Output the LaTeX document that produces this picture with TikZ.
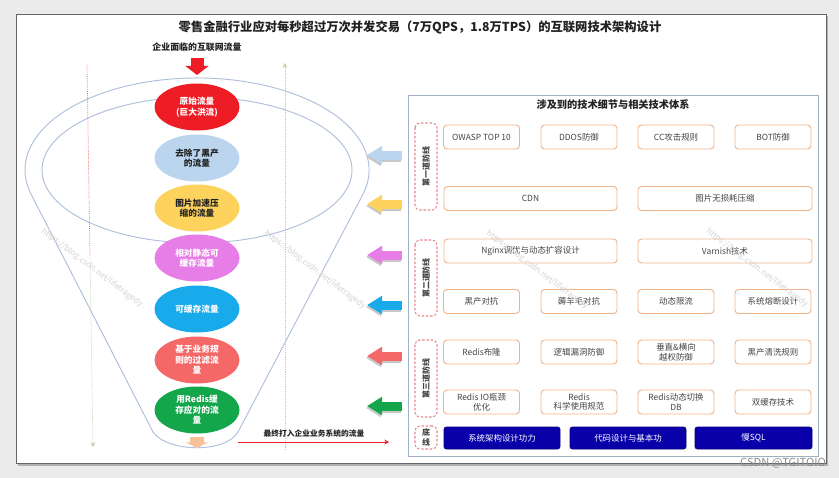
\documentclass[tikz,border=0pt]{standalone}
\usepackage{fontspec}
\setmainfont{Noto Sans CJK SC}
\usetikzlibrary{arrows.meta,shapes.geometric}
\definecolor{ffink}{HTML}{222222}
\definecolor{ffgrey}{HTML}{444444}
\definecolor{ffbg}{HTML}{EBEBEB}
\definecolor{ffrim}{HTML}{AEBFDC}
\definecolor{ffred}{HTML}{EE1C24}
\definecolor{ffsky}{HTML}{BBD5EE}
\definecolor{ffsun}{HTML}{FDD35E}
\definecolor{ffpink}{HTML}{E77DE7}
\definecolor{ffblue}{HTML}{18AAEA}
\definecolor{ffrose}{HTML}{F46868}
\definecolor{ffleaf}{HTML}{13A64B}
\definecolor{ffpeach}{HTML}{F7C297}
\definecolor{fflime}{HTML}{C2CBAA}
\definecolor{fforange}{HTML}{F0B48A}
\definecolor{ffdash}{HTML}{E8838F}
\definecolor{ffnavy}{HTML}{0A00AA}
\definecolor{ffpanel}{HTML}{9FB0C8}
\tikzset{
  fn text/.style={text=ffink},
  fn title/.style={font=\fontsize{10.5}{12}\selectfont\bfseries},
  fn caption/.style={font=\fontsize{7.6}{9}\selectfont\bfseries},
  fn rim/.style={draw=ffrim, line width=0.8pt},
  fn flow/.style={ellipse, minimum width=2.55cm, minimum height=1.41cm, inner sep=0pt,
    align=center, font=\fontsize{7.4}{9}\selectfont\bfseries},
  fn pointer/.style={-{Triangle[length=0.45cm,width=0.52cm]}, line width=0.27cm},
  fn guide/.style={densely dotted, line width=0.6pt},
  fn panel/.style={draw=ffpanel, line width=1pt, fill=white},
  fn tech/.style={draw=fforange, line width=0.8pt, rounded corners=3pt, fill=white,
    minimum width=2.28cm, minimum height=0.72cm, inner sep=1pt, align=center,
    text=ffgrey, font=\fontsize{7.2}{8.4}\selectfont},
  fn base/.style={fill=ffnavy, draw=ffnavy!70!black, line width=0.6pt, rounded corners=2pt,
    minimum width=3.48cm, minimum height=0.66cm, text=white, font=\fontsize{7.2}{8.4}\selectfont},
  fn layer/.style={draw=ffdash, line width=0.9pt, dash pattern=on 2pt off 1.6pt,
    rounded corners=4pt, minimum height=0.66cm, inner sep=0pt, align=center,
    text=ffgrey, font=\fontsize{6.8}{8}\selectfont\bfseries},
  fn mark/.style={text=black!17, font=\fontsize{7}{8}\selectfont, rotate=-37}
}
\begin{document}
\begin{tikzpicture}[x=0.03cm, y=-0.03cm, fn text]
  \useasboundingbox (0,0) rectangle (839,478);
  \fill[ffbg] (0,0) rectangle (839,478);
  \fill[black!30] (18,16) rectangle (828,466);
  \draw[fill=white, draw=black!60, line width=0.8pt] (16,14) rectangle (826,463);
  \node[fn title] (title) at (420,27) {零售金融行业应对每秒超过万次并发交易（7万QPS，1.8万TPS）的互联网技术架构设计};
  \node[fn caption] (inlet) at (197,47) {企业面临的互联网流量};

  % funnel body and rim
  \draw[fn rim] (30.9,193.8) arc[start angle=195, end angle=-15, x radius=5.16cm, y radius=2.76cm]
    -- (238,432) .. controls (226,453) and (168,453) .. (153,432) -- cycle;
  \draw[fn rim] (197,170) ellipse[x radius=4.65cm, y radius=2.19cm];

  % dotted guides
  \coordinate (fall top) at (87,65);
  \coordinate (fall mid) at (90,255);
  \coordinate (fall end) at (93,447);
  \coordinate (rise start) at (285,450);
  \coordinate (rise end) at (285,63);
  \draw[fn guide, draw=ffred!70] (fall top) -- (fall mid);
  \draw[fn guide, draw=fflime, -{Stealth[length=4pt,width=4pt]}] (fall mid) -- (fall end);
  \draw[fn guide, draw=fflime, -{Stealth[length=4pt,width=4pt]}] (rise start) -- (rise end);

  \foreach \y/\c/\t/\s [count=\i] in {107/ffred/white/{原始流量\\(巨大洪流)},
      158/ffsky/ffink/{去除了黑产\\的流量}, 208/ffsun/ffink/{图片加速压\\缩的流量},
      258/ffpink/white/{相对静态可\\缓存流量}, 309/ffblue/white/{可缓存流量},
      360/ffrose/white/{基于业务规\\则的过滤流\\量}, 410/ffleaf/white/{用Redis缓\\存应对的流\\量}}
    \node[fn flow, fill=\c, text=\t] (flow\i) at (197,\y) {\s};

  \draw[-{Triangle[length=0.27cm,width=0.69cm]}, line width=0.39cm, draw=ffred,
    shorten <=0.09cm, shorten >=0.25cm] (inlet.south) -- (flow1.north);
  \coordinate (drop end) at (197,448);
  \draw[-{Triangle[length=0.17cm,width=0.66cm]}, line width=0.42cm, draw=ffpeach,
    shorten <=0.09cm] (flow7.south) -- (drop end);

  % traffic that reaches the business system
  \coordinate (exit) at (238,442);
  \coordinate (exit end) at (389,442);
  \draw[draw=ffred, line width=0.7pt, -{Stealth[length=4pt,width=4pt]}] (exit) -- (exit end);
  \node[fn caption, font=\fontsize{6.6}{8}\selectfont\bfseries] (sink) at (314,434) {最终打入企业业务系统的流量};

  % defence arrows
  \foreach \y/\c [count=\i] in {155/ffsky, 204/ffsun, 255/ffpink, 305/ffblue, 356/ffrose, 406/ffleaf} {
    \coordinate (tail\i) at (402,\y);
    \coordinate (tip\i) at (367,\y);
    \draw[fn pointer, draw=black!22] ([xshift=-0.03cm,yshift=-0.06cm]tail\i) -- ([xshift=-0.03cm,yshift=-0.06cm]tip\i);
    \draw[fn pointer, draw=\c] (tail\i) -- (tip\i);
  }

  % technology panel
  \node[fn panel, minimum width=12.3cm, minimum height=10.83cm, anchor=north west] (panel) at (408,95) {};
  \node[fn caption, font=\fontsize{8.7}{10}\selectfont\bfseries] (paneltitle) at (613,105) {涉及到的技术细节与相关技术体系};
  \node[fn layer, rotate=90, minimum width=2.61cm] (layer1) at (426,166.5) {第一道防线};
  \node[fn layer, rotate=90, minimum width=2.28cm] (layer2) at (426,278) {第二道防线};
  \node[fn layer, rotate=90, minimum width=2.31cm] (layer3) at (426,378.5) {第三道防线};
  \node[fn layer, minimum width=0.66cm, minimum height=0.69cm] (layer4) at (426,437.5) {底\\线};

  \foreach \y/\r/\la/\lb/\lc/\ld in {137/a/OWASP TOP 10/DDOS防御/CC攻击规则/BOT防御,
      301.5/d/黑产对抗/薅羊毛对抗/动态限流/系统熔断设计,
      352/e/Redis布隆/逻辑漏洞防御/垂直\&横向\\越权防御/黑产清洗规则,
      402/f/Redis IO瓶颈\\优化/Redis\\科学使用规范/Redis动态切换\\DB/双缓存技术} {
    \node[fn tech] (tech\r1) at (481.5,\y) {\la};
    \node[fn tech] (tech\r2) at (579,\y) {\lb};
    \node[fn tech] (tech\r3) at (676,\y) {\lc};
    \node[fn tech] (tech\r4) at (773,\y) {\ld};
  }
  \node[fn tech, minimum width=5.19cm] (techb1) at (530.5,198.5) {CDN};
  \node[fn tech, minimum width=5.22cm] (techb2) at (725,198.5) {图片无损耗压缩};
  \node[fn tech, minimum width=5.19cm] (techc1) at (530.5,251) {Nginx调优与动态扩容设计};
  \node[fn tech, minimum width=5.22cm] (techc2) at (725,251) {Varnish技术};
  \node[fn base] (base1) at (502,438) {系统架构设计功力};
  \node[fn base] (base2) at (628,438) {代码设计与基本功};
  \node[fn base, minimum width=3.51cm] (base3) at (753.5,438) {慢SQL};

  % watermarks
  \foreach \x/\y [count=\i] in {92/268, 315/270, 537/270, 757/268}
    \node[fn mark] (mark\i) at (\x,\y) {https://blog.csdn.net/lifetragedy};
  \node[text=black!45, font=\fontsize{9.5}{11}\selectfont] (stamp) at (783,463) {CSDN @TGITOIO};
\end{tikzpicture}
\end{document}
